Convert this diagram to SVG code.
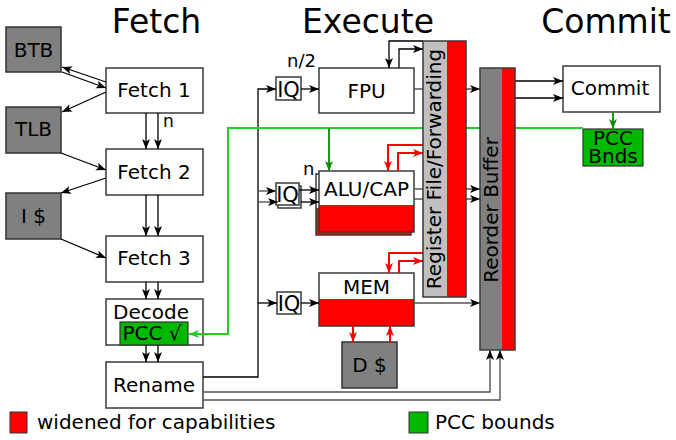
<svg xmlns="http://www.w3.org/2000/svg" width="676" height="440" viewBox="0 0 676 440">
<style>
text{font-family:"DejaVu Sans","Liberation Sans",sans-serif;fill:#000}
.t20{font-size:20px;text-anchor:middle}
.title{font-size:33px;text-anchor:middle}
.box{fill:#fff;stroke:#3a3a3a;stroke-width:1.5}
.gbox{fill:#808080;stroke:#333;stroke-width:1.5}
.grn{fill:#00b800;stroke:#333;stroke-width:1.2}
.red{fill:#ff0000;stroke:none}
.edge{fill:none;stroke:#3a3a3a;stroke-width:1.5}
.k{fill:none;stroke:#000;stroke-width:1.3}
.s{fill:none;stroke:#555;stroke-width:1.4}
.r{fill:none;stroke:#ff0000;stroke-width:2}
.g{fill:none;stroke:#22cc22;stroke-width:2}
.dg{fill:none;stroke:#1a9a1a;stroke-width:2}
</style>
<defs>
<marker id="ak" markerUnits="userSpaceOnUse" markerWidth="12" markerHeight="10" refX="10" refY="4" orient="auto"><path d="M0,0 L10,4 L0,8 L2.5,4 z" fill="#000"/></marker>
<marker id="ar" markerUnits="userSpaceOnUse" markerWidth="12" markerHeight="10" refX="10" refY="4" orient="auto"><path d="M0,0 L10,4 L0,8 L2.5,4 z" fill="#ff0000"/></marker>
<marker id="ag" markerUnits="userSpaceOnUse" markerWidth="12" markerHeight="10" refX="10" refY="4" orient="auto"><path d="M0,0 L10,4 L0,8 L2.5,4 z" fill="#22cc22"/></marker>
<marker id="adg" markerUnits="userSpaceOnUse" markerWidth="12" markerHeight="10" refX="10" refY="4" orient="auto"><path d="M0,0 L10,4 L0,8 L2.5,4 z" fill="#108a10"/></marker>
</defs>
<rect width="676" height="440" fill="#fff"/>

<g id="titles">
<text class="title" x="156.5" y="33">Fetch</text>
<text class="title" x="368" y="33">Execute</text>
<text class="title" x="606" y="33">Commit</text>
</g>

<g id="btb"><rect class="gbox" x="6" y="27" width="55" height="45"/><text class="t20" x="33.5" y="57">BTB</text></g>
<g id="tlb"><rect class="gbox" x="6" y="107" width="55" height="46"/><text class="t20" x="33.5" y="136">TLB</text></g>
<g id="icache"><rect class="gbox" x="6" y="193" width="55" height="46"/><text class="t20" x="33.5" y="223">I $</text></g>

<g id="fetch1"><rect class="box" x="106" y="68" width="97" height="45"/><text class="t20" x="154" y="97">Fetch 1</text></g>
<g id="fetch2"><rect class="box" x="106" y="149" width="97" height="46"/><text class="t20" x="154" y="179">Fetch 2</text></g>
<g id="fetch3"><rect class="box" x="106" y="236" width="97" height="46"/><text class="t20" x="154" y="265">Fetch 3</text></g>
<g id="decode"><rect class="box" x="106" y="299" width="97" height="46"/><text class="t20" x="151" y="319">Decode</text></g>
<g id="rename"><rect class="box" x="106" y="362" width="97" height="46"/><text class="t20" x="154" y="392">Rename</text></g>

<g id="iq-fpu"><rect class="box" x="276" y="77" width="25" height="23"/><text class="t20" style="font-size:21px" x="288.5" y="97">IQ</text></g>
<g id="iq-alu"><rect class="box" x="278" y="186" width="23" height="22"/><rect class="box" x="276" y="183" width="23" height="22"/><text class="t20" style="font-size:21px" x="287.5" y="202">IQ</text></g>
<g id="iq-mem"><rect class="box" x="277" y="292" width="24" height="22"/><text class="t20" style="font-size:21px" x="289" y="311">IQ</text></g>

<g id="fpu"><rect class="box" x="319" y="68" width="95" height="45"/><text class="t20" x="366.5" y="98">FPU</text><text style="font-size:18px" x="287" y="67">n/2</text></g>
<g id="alu">
<rect x="316" y="174" width="95" height="61" fill="#fff"/><rect class="red" x="316" y="208" width="95" height="27"/><rect class="edge" x="316" y="174" width="95" height="61"/>
<rect x="319" y="171" width="95" height="61" fill="#fff"/><rect class="red" x="319" y="205" width="95" height="27"/><rect class="edge" x="319" y="171" width="95" height="61"/>
<text class="t20" x="366.5" y="196">ALU/CAP</text>
<text style="font-size:18px" x="303" y="175">n</text>
</g>
<g id="mem"><rect x="319" y="273" width="95" height="53" fill="#fff"/><rect class="red" x="319" y="299" width="95" height="27"/><rect class="edge" x="319" y="273" width="95" height="53"/><text class="t20" x="366.5" y="294">MEM</text></g>
<g id="dcache"><rect class="gbox" x="342" y="342" width="55" height="46"/><text class="t20" x="369.5" y="372">D $</text></g>

<g id="commit"><rect class="box" x="563" y="66" width="97" height="46"/><text class="t20" x="610" y="95">Commit</text></g>
<g id="pcc-bnds"><rect class="grn" x="583" y="129" width="60" height="37"/><text class="t20" x="613" y="145">PCC</text><text class="t20" x="613" y="163">Bnds</text></g>
<g id="pcc-check"><rect class="grn" x="120" y="322" width="68" height="23"/><text class="t20" x="152" y="340">PCC √</text></g>

<g id="connectors">
<path class="k" d="M106,82 L62,67" marker-end="url(#ak)"/>
<path class="k" d="M62,72 L106,88" marker-end="url(#ak)"/>
<path class="k" d="M106,92 L62,112" marker-end="url(#ak)"/>
<path class="k" d="M61,153 L106,170" marker-end="url(#ak)"/>
<path class="k" d="M106,178 L61,193" marker-end="url(#ak)"/>
<path class="k" d="M61,239 L106,258" marker-end="url(#ak)"/>
<path class="k" d="M146,113 V149" marker-end="url(#ak)"/>
<path class="k" d="M158,113 V149" marker-end="url(#ak)"/>
<text style="font-size:17px" x="163" y="127">n</text>
<path class="k" d="M146,195 V236" marker-end="url(#ak)"/>
<path class="k" d="M158,195 V236" marker-end="url(#ak)"/>
<path class="k" d="M146,282 V299" marker-end="url(#ak)"/>
<path class="k" d="M158,282 V299" marker-end="url(#ak)"/>
<path class="k" d="M146,345 V362" marker-end="url(#ak)"/>
<path class="k" d="M158,345 V362" marker-end="url(#ak)"/>

<path class="k" d="M203,377 H258 V89 H276" marker-end="url(#ak)"/>
<path class="s" d="M258,191 H276" marker-end="url(#ak)"/>
<path class="s" d="M258,202 H278" marker-end="url(#ak)"/>
<path class="k" d="M258,303 H277" marker-end="url(#ak)"/>
<path class="k" d="M301,89 H319" marker-end="url(#ak)"/>
<path class="k" d="M299,190 H319" marker-end="url(#ak)"/>
<path class="k" d="M301,202 H319" marker-end="url(#ak)"/>
<path class="k" d="M301,303 H319" marker-end="url(#ak)"/>

<path class="s" d="M414,89 H480" marker-end="url(#ak)"/>
<path class="s" d="M414,189 H480" marker-end="url(#ak)"/>
<path class="s" d="M414,199 H480" marker-end="url(#ak)"/>
<path class="s" d="M414,303 H480" marker-end="url(#ak)"/>

<path class="k" d="M423,41 H389 V68" marker-end="url(#ak)"/>
<path class="k" d="M399,68 V49 H423" marker-end="url(#ak)"/>
<path class="r" d="M423,145 H388 V171" marker-end="url(#ar)"/>
<path class="r" d="M398,171 V153 H423" marker-end="url(#ar)"/>
<path class="r" d="M423,253 H389 V273" marker-end="url(#ar)"/>
<path class="r" d="M399,273 V261 H423" marker-end="url(#ar)"/>
<path class="r" d="M353,326 V342" marker-end="url(#ar)"/>
<path class="r" d="M390,342 V326" marker-end="url(#ar)"/>

<path class="s" d="M203,392 H490 V350" marker-end="url(#ak)"/>
<path class="s" d="M203,400 H500 V350" marker-end="url(#ak)"/>

<path class="k" d="M515,81 H563" marker-end="url(#ak)"/>
<path class="k" d="M515,98 H563" marker-end="url(#ak)"/>

<path class="g" d="M583,128 H228 V334 H189" marker-end="url(#ag)"/>
<path class="dg" d="M329,128 V171" marker-end="url(#adg)"/>
<path class="dg" d="M613,112 V129" marker-end="url(#adg)"/>
</g>

<g id="regfile">
<rect x="423" y="41" width="24" height="256" fill="#c0c0c0"/>
<rect class="red" x="447" y="41" width="19" height="256"/>
<rect class="edge" x="423" y="41" width="43" height="256"/>
<text class="t20" transform="translate(441,169) rotate(-90)" x="0" y="0">Register File/Forwarding</text>
</g>
<g id="rob">
<rect x="480" y="68" width="22" height="282" fill="#808080"/>
<rect class="red" x="502" y="68" width="13" height="282"/>
<rect class="edge" x="480" y="68" width="35" height="282"/>
<text class="t20" transform="translate(498,210) rotate(-90)" x="0" y="0">Reorder Buffer</text>
</g>

<g id="legend">
<rect x="10" y="412" width="17" height="21" fill="#ff0000" stroke="#333" stroke-width="1"/>
<text style="font-size:20px" x="37" y="429">widened for capabilities</text>
<rect x="409" y="412" width="19" height="21" fill="#00b800" stroke="#333" stroke-width="1"/>
<text style="font-size:20px" x="435" y="429">PCC bounds</text>
</g>
</svg>
